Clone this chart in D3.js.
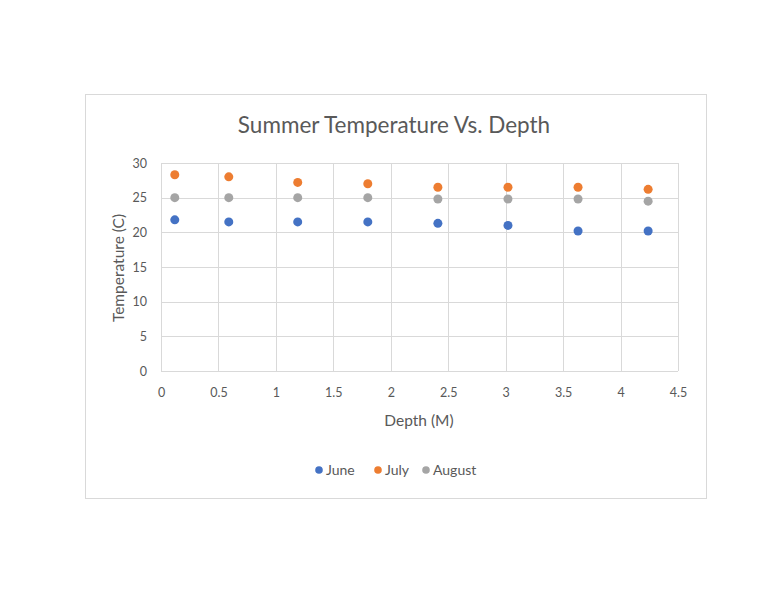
<!DOCTYPE html>
<html><head><meta charset="utf-8">
<script src="https://cdn.jsdelivr.net/npm/d3@7"></script>
<style>body{margin:0;background:#fff;} text{font-family:Lato,"Open Sans",sans-serif;}</style>
</head><body>
<svg id="c" width="776" height="600"></svg>
<script>
const depths = [0.12, 0.59, 1.19, 1.8, 2.41, 3.02, 3.63, 4.24];
const june = [21.8, 21.5, 21.5, 21.5, 21.3, 21.0, 20.2, 20.2];
const july = [28.3, 28.0, 27.2, 27.0, 26.5, 26.5, 26.5, 26.2];
const august = [25.0, 25.0, 25.0, 25.0, 24.8, 24.8, 24.8, 24.5];
const seriesNames = ["June", "July", "August"];
const seriesColors = ["#4472C4", "#ED7D31", "#A5A5A5"];
const xTicks = [0, 0.5, 1, 1.5, 2, 2.5, 3, 3.5, 4, 4.5];
const yTicks = [0, 5, 10, 15, 20, 25, 30];

const svg = d3.select("#c");
const L = 161, R = 678, T = 163, B = 371;
const x = d3.scaleLinear().domain([0, 4.5]).range([L, R]);
const y = d3.scaleLinear().domain([0, 30]).range([B, T]);

svg.append("rect").attr("x", 85.5).attr("y", 94.5).attr("width", 621).attr("height", 404)
  .attr("fill", "#fff").attr("stroke", "#d9d9d9");

svg.append("text").attr("x", 394).attr("y", 133).attr("text-anchor", "middle")
  .attr("font-size", 22.5).attr("fill", "#595959").text("Summer Temperature Vs. Depth");

const g = svg.append("g");
g.selectAll(".hg").data(yTicks).join("line")
  .attr("x1", L).attr("x2", R).attr("y1", d => Math.round(y(d)) + 0.5).attr("y2", d => Math.round(y(d)) + 0.5)
  .attr("stroke", "#d9d9d9");
g.selectAll(".vg").data(xTicks).join("line")
  .attr("y1", T).attr("y2", B).attr("x1", d => Math.round(x(d)) + 0.5).attr("x2", d => Math.round(x(d)) + 0.5)
  .attr("stroke", "#d9d9d9");

const xa = svg.append("g").attr("transform", `translate(0,${B})`)
  .call(d3.axisBottom(x).tickValues(xTicks).tickSize(0).tickPadding(17).tickFormat(d3.format("")));
xa.select(".domain").remove();
xa.selectAll("text").attr("font-size", 12.5).attr("fill", "#595959").style("font-family", "Lato,'Open Sans',sans-serif");

const ya = svg.append("g").attr("transform", `translate(${L},0)`)
  .call(d3.axisLeft(y).tickValues(yTicks).tickSize(0).tickPadding(14));
ya.select(".domain").remove();
ya.selectAll("text").attr("font-size", 12.5).attr("fill", "#595959").style("font-family", "Lato,'Open Sans',sans-serif");

svg.append("text").attr("x", 419).attr("y", 426).attr("text-anchor", "middle")
  .attr("font-size", 15.5).attr("fill", "#595959").text("Depth (M)");
svg.append("text").attr("transform", "translate(124,268) rotate(-90)").attr("text-anchor", "middle")
  .attr("font-size", 15.5).attr("fill", "#595959").text("Temperature (C)");

const series = [june, july, august];
series.forEach((vals, i) => {
  svg.append("g").selectAll("circle").data(vals.map((v, j) => [depths[j], v])).join("circle")
    .attr("cx", d => x(d[0])).attr("cy", d => y(d[1])).attr("r", 4.5).attr("fill", seriesColors[i]);
});

const legX = [319, 378, 426];
const lg = svg.append("g");
seriesNames.forEach((n, i) => {
  lg.append("circle").attr("cx", legX[i]).attr("cy", 470).attr("r", 3.8).attr("fill", seriesColors[i]);
  lg.append("text").attr("x", legX[i] + 7).attr("y", 475).attr("font-size", 14).attr("fill", "#595959").text(n);
});
</script>
</body></html>
